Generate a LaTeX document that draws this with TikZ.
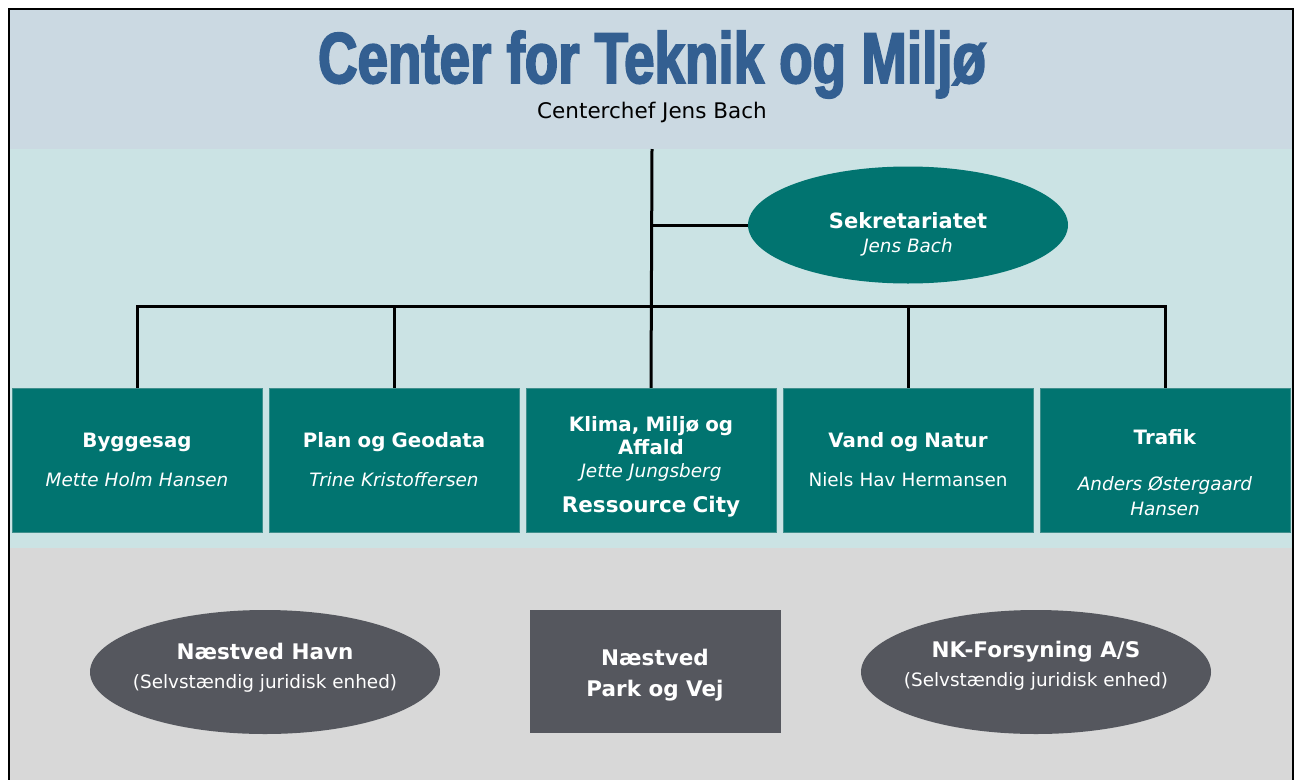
\documentclass[tikz,border=0pt]{standalone}
\usepackage{fontspec}
\setmainfont{DejaVu Sans}
\newfontfamily\titlefont[FakeStretch=0.76,FakeBold=2.5]{Liberation Sans Bold}
\usetikzlibrary{positioning, shapes.geometric}
\definecolor{topband}{HTML}{CBD9E2}
\definecolor{midband}{HTML}{CBE3E4}
\definecolor{lowband}{HTML}{D8D8D8}
\definecolor{tealfill}{HTML}{017470}
\definecolor{tealedge}{HTML}{3F8F8C}
\definecolor{greyfill}{HTML}{55575E}
\definecolor{titleblue}{HTML}{335F91}
\newcommand{\unithead}[1]{\textbf{\fontsize{19.8}{24}\selectfont #1}}
\newcommand{\bighead}[1]{\textbf{\fontsize{21.5}{24}\selectfont #1}}

\begin{document}
\begin{tikzpicture}[x=1pt,y=-1pt,node distance=257pt,on grid,
    font=\fontsize{18.4}{24}\selectfont]
  \tikzstyle{unitbox}=[rectangle,draw=tealedge,fill=tealfill,text=white,minimum width=250pt,minimum height=144pt,text width=244pt,align=center,inner sep=0pt]
  \tikzstyle{secrnode}=[ellipse,fill=tealfill,text=white,minimum width=320pt,minimum height=117pt,align=center,inner sep=0pt]
  \tikzstyle{extnode}=[ellipse,fill=greyfill,text=white,minimum width=350pt,minimum height=124pt,align=center,inner xsep=-14pt,inner ysep=0pt]
  \tikzstyle{orgline}=[line width=3pt]

  \useasboundingbox (0,0) rectangle (1295,779);
  \fill[white] (0,0) rectangle (1295,779);
  \fill[topband] (9,9) rectangle (1293,149);
  \fill[midband] (9,149) rectangle (1293,548);
  \fill[lowband] (9,548) rectangle (1293,785);
  \draw[line width=2.5pt] (9,790) |- (1293,9) -- (1293,790);

  \node[anchor=base,text=titleblue,font=\titlefont\fontsize{72}{80}\selectfont] (title) at (652,83) {Center for Teknik og Miljø};
  \node[anchor=base,font=\fontsize{21.5}{26}\selectfont] (chef) at (652,118) {Centerchef Jens Bach};
  \coordinate (top) at (652,149);

  \node[secrnode] (sekr) at (908,225) {\rule{0pt}{34pt}\textbf{\fontsize{21}{24}\selectfont Sekretariatet}\\[0pt] \textit{Jens Bach}};

  \node[unitbox] (bygge) at (137,460) {\unithead{Byggesag}\\[15pt] \textit{Mette Holm Hansen}};
  \node[unitbox] (plan) [right=of bygge] {\unithead{Plan og Geodata}\\[15pt] \textit{Trine Kristoffersen}};
  \node[unitbox] (klima) [right=of plan] {\rule{0pt}{28pt}\unithead{Klima, Miljø og}\\[-1pt] \unithead{Affald}\\[-1pt] \textit{Jette Jungsberg}\\[11pt] \bighead{Ressource City}};
  \node[unitbox] (vand) [right=of klima] {\unithead{Vand og Natur}\\[15pt] Niels Hav Hermansen};
  \node[unitbox] (trafik) [right=of vand] {\rule{0pt}{41pt}\unithead{Trafik}\\[22pt] \textit{Anders Østergaard}\\[1pt] \textit{Hansen}};

  \coordinate (bus) at (652,306);
  \draw[orgline] (top) -- (klima.north);
  \draw[orgline] (top |- sekr.west) -- (sekr.west);
  \draw[orgline] (bygge.north) |- (bus) -| (trafik.north);
  \draw[orgline] (plan.north) -- (plan.north |- bus);
  \draw[orgline] (vand.north) -- (vand.north |- bus);

  \node[extnode] (havn) at (265,672) {\bighead{Næstved Havn}\\[5pt] (Selvstændig juridisk enhed)\rule[-13pt]{0pt}{13pt}};
  \node[rectangle,fill=greyfill,text=white,minimum width=251pt,minimum height=123pt,align=center,inner sep=0pt] (parkvej) at (655,671) {\rule{0pt}{24pt}\bighead{Næstved}\\[7pt] \bighead{Park og Vej}};
  \node[extnode] (nkf) at (1036,672) {\bighead{NK-Forsyning A/S}\\[5pt] (Selvstændig juridisk enhed)\rule[-17pt]{0pt}{17pt}};
\end{tikzpicture}
\end{document}
